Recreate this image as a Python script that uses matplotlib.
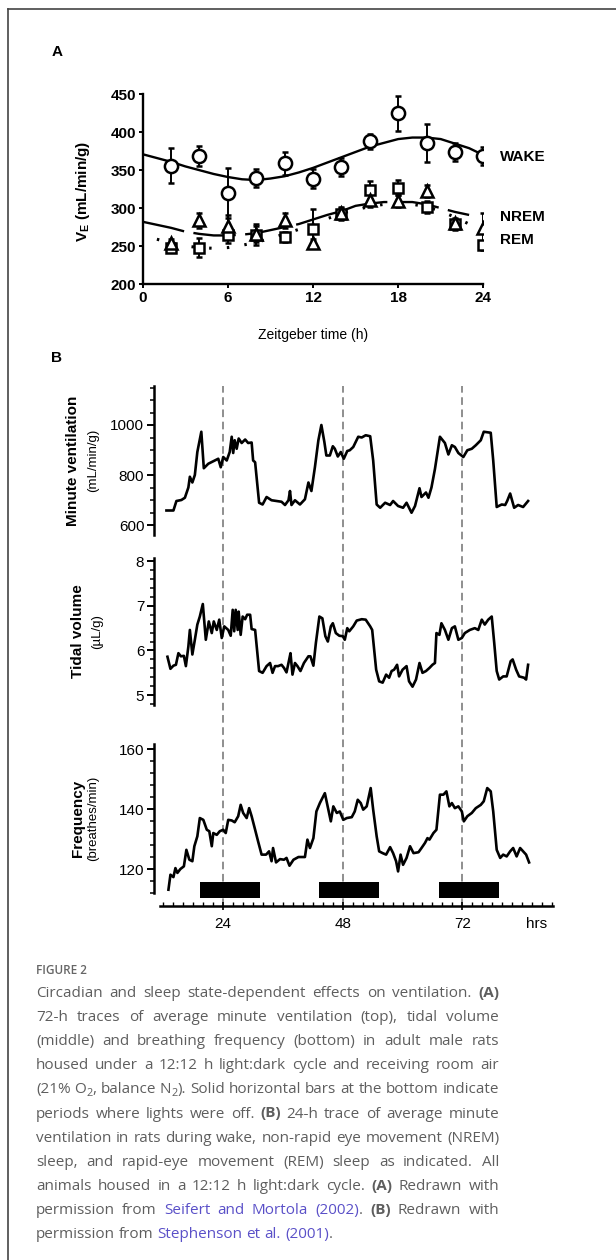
import re
import matplotlib
matplotlib.use('Agg')
import matplotlib.pyplot as plt
from matplotlib.lines import Line2D
from matplotlib.ticker import MultipleLocator

plt.rcParams['font.family'] = ['Liberation Sans', 'DejaVu Sans']
plt.rcParams['mathtext.fontset'] = 'custom'
plt.rcParams['mathtext.rm'] = 'Liberation Sans'
plt.rcParams['mathtext.bf'] = 'Liberation Sans:bold'

W, H = 616, 1260


def fx(px):
    return px / W


def fy(py):
    return 1 - py / H


# ---------------- Panel A data (Zeitgeber time, mL/min/g) ----------------
zt = [2, 4, 6, 8, 10, 12, 14, 16, 18, 20, 22, 24]
wake_mean = [356, 369, 320, 340, 359, 339, 354, 388, 425, 386, 374, 369]
wake_err = [23, 13, 33, 12, 15, 12, 12, 10, 23, 25, 12, 12]
nrem_mean = [254, 284, 277, 266, 284, 254, 294, 311, 309, 322, 280, 274]
nrem_err = [5, 10, 14, 10, 10, 5, 8, 10, 8, 8, 6, 20]
rem_mean = [248, 248, 264, 265, 262, 273, 292, 324, 327, 302, 279, 251]
rem_err = [5, 12, 10, 14, 6, 26, 8, 12, 10, 8, 8, 6]

wake_fit_h = list(range(0, 25))
wake_fit = [371, 366, 361, 355, 350, 345, 341, 338, 337, 339, 342, 347, 353,
            360, 367, 374, 381, 386, 391, 393, 393, 391, 385, 379, 370]
nrem_fit_h = list(range(0, 24))
nrem_fit = [282, 278, 274, 269, 266, 264, 264, 265, 267, 271, 275, 279, 285,
            291, 296, 303, 306, 308, 308, 308, 305, 300, 295, 291]
rem_fit_h = list(range(1, 24))
rem_fit = [259, 254, 250, 248, 247, 248, 251, 255, 260, 266, 272, 279, 286,
           293, 298, 302, 305, 306, 305, 302, 296, 288, 279]

# ---------------- Panel B data (hours) ----------------
mv_h = [12.6, 14.0, 14.6, 15.6, 16.3, 17.0, 17.3, 17.8, 18.3, 18.8,
        19.6, 20.1, 21.0, 22.0, 23.0, 23.5, 24.0, 24.7, 25.3, 25.7,
        26.0, 26.3, 26.7, 27.1, 27.7, 28.4, 29.0, 29.7, 30.0, 30.4,
        31.2, 31.9, 32.7, 33.7, 34.7, 35.7, 36.4, 37.1, 37.4, 37.7,
        38.4, 39.4, 40.4, 41.1, 41.7, 42.4, 43.1, 43.7, 44.3, 44.7,
        45.4, 46.0, 46.4, 47.0, 47.6, 48.2, 48.9, 49.4, 50.1, 51.1,
        51.8, 52.6, 53.5, 54.1, 54.8, 55.5, 56.5, 57.5, 58.1, 59.1,
        60.1, 60.8, 61.8, 62.5, 63.4, 63.8, 64.7, 65.2, 65.8, 66.5,
        67.5, 68.5, 69.2, 69.9, 70.5, 71.2, 72.2, 73.0, 73.9, 74.7,
        75.7, 76.3, 77.7, 78.2, 78.9, 79.9, 80.6, 81.0, 81.6, 82.4,
        83.2, 84.2, 85.2]
mv = [658, 658, 696, 700, 709, 750, 793, 770, 800, 892,
      973, 827, 845, 855, 865, 831, 872, 858, 892, 953,
      888, 939, 905, 946, 928, 942, 928, 930, 858, 851,
      689, 682, 712, 699, 696, 693, 680, 699, 736, 680,
      699, 682, 703, 770, 736, 831, 939, 1000, 932, 878,
      878, 915, 905, 874, 892, 865, 896, 899, 912, 953,
      950, 959, 955, 858, 682, 669, 689, 680, 696, 676,
      669, 689, 649, 676, 747, 712, 730, 709, 750, 824,
      953, 928, 882, 919, 912, 888, 872, 899, 905, 919,
      939, 973, 969, 858, 672, 682, 680, 696, 726, 669,
      680, 672, 696]

tv_h = [12.8, 13.4, 14.0, 14.5, 15.0, 15.5, 16.1, 16.5, 17.0, 17.3,
        17.8, 18.3, 18.8, 19.3, 19.9, 20.5, 21.1, 21.7, 22.1, 22.7,
        23.2, 23.7, 24.2, 25.0, 25.5, 25.9, 26.2, 26.5, 26.9, 27.1,
        27.5, 27.9, 28.4, 28.8, 29.4, 29.7, 30.4, 31.2, 31.9, 32.7,
        33.4, 33.9, 34.4, 35.0, 35.7, 36.2, 36.7, 37.3, 37.5, 37.9,
        38.4, 38.9, 39.5, 40.2, 41.1, 41.5, 42.1, 42.6, 43.3, 43.9,
        44.5, 45.0, 45.6, 46.0, 46.6, 47.3, 48.0, 48.4, 48.9, 49.3,
        50.1, 50.8, 51.8, 52.6, 53.5, 53.9, 54.7, 55.3, 56.0, 56.7,
        57.3, 57.8, 58.3, 58.9, 59.3, 60.0, 60.8, 61.3, 62.0, 62.7,
        63.4, 64.0, 64.7, 65.4, 66.0, 66.5, 66.8, 67.4, 67.8, 68.5,
        69.2, 69.9, 70.5, 71.2, 71.9, 72.5, 73.5, 74.5, 75.2, 75.9,
        76.5, 77.2, 77.9, 78.4, 78.9, 79.4, 80.2, 80.9, 81.7, 82.1,
        82.8, 83.4, 84.4, 84.8, 85.2]
tv = [5.86, 5.59, 5.66, 5.68, 5.94, 5.87, 5.88, 5.65, 6.09, 6.46,
      5.91, 6.24, 6.58, 6.76, 7.04, 6.24, 6.65, 6.39, 6.65, 6.46,
      6.69, 6.28, 6.54, 6.46, 6.33, 6.91, 6.43, 6.91, 6.46, 6.87,
      6.35, 6.76, 6.70, 6.80, 6.80, 6.48, 6.46, 5.54, 5.50, 5.65,
      5.72, 5.50, 5.65, 5.65, 5.68, 5.61, 5.51, 5.83, 5.94, 5.46,
      5.72, 5.65, 5.54, 5.72, 5.87, 5.87, 5.66, 6.17, 6.76, 6.72,
      6.32, 6.20, 6.54, 6.61, 6.39, 6.33, 6.32, 6.24, 6.50, 6.43,
      6.54, 6.67, 6.70, 6.69, 6.54, 6.46, 5.57, 5.31, 5.28, 5.46,
      5.39, 5.54, 5.57, 5.68, 5.42, 5.57, 5.65, 5.31, 5.19, 5.35,
      5.72, 5.50, 5.54, 5.61, 5.68, 5.72, 6.39, 6.35, 6.61, 6.46,
      6.24, 6.50, 6.54, 6.24, 6.28, 6.39, 6.46, 6.50, 6.46, 6.69,
      6.58, 6.69, 6.76, 6.17, 5.54, 5.35, 5.42, 5.42, 5.76, 5.80,
      5.57, 5.42, 5.39, 5.35, 5.68]

fr_h = [13.0, 13.4, 14.0, 14.4, 14.8, 15.4, 16.1, 16.6, 17.2, 17.8,
        18.2, 18.8, 19.3, 20.0, 20.7, 21.2, 21.7, 22.0, 22.7, 23.3,
        24.0, 24.5, 25.0, 25.7, 26.3, 27.0, 27.5, 28.0, 28.7, 29.2,
        29.7, 30.4, 31.0, 31.7, 32.6, 33.2, 33.7, 34.0, 34.6, 35.4,
        36.2, 36.7, 37.3, 38.1, 39.1, 40.4, 40.9, 41.4, 42.1, 42.7,
        43.4, 44.4, 45.1, 45.6, 46.1, 46.8, 47.4, 48.1, 48.8, 49.8,
        50.4, 51.0, 51.6, 52.1, 52.8, 53.6, 54.1, 54.8, 55.3, 56.0,
        56.7, 57.5, 58.1, 58.7, 59.1, 59.6, 60.1, 60.8, 61.5, 62.2,
        63.2, 63.8, 64.5, 65.0, 65.4, 66.2, 66.8, 67.5, 68.2, 68.8,
        69.4, 69.9, 70.5, 71.2, 71.9, 72.3, 73.0, 73.9, 74.7, 75.7,
        76.3, 77.0, 77.7, 78.2, 78.9, 79.6, 80.2, 80.9, 81.6, 82.2,
        82.9, 83.6, 84.2, 84.8, 85.4]
fr = [113.1, 118.1, 117.3, 120.3, 118.7, 120.0, 120.9, 126.4, 123.1, 122.6,
      127.6, 130.9, 137.0, 136.4, 133.1, 132.6, 127.6, 132.0, 131.4, 132.6,
      133.1, 132.0, 136.4, 136.2, 135.6, 137.6, 141.4, 138.7, 137.0, 140.3,
      137.6, 133.1, 129.2, 124.8, 124.8, 125.9, 122.6, 127.0, 122.2, 123.3,
      123.1, 123.7, 121.1, 123.1, 124.0, 124.0, 129.8, 127.0, 130.3, 139.2,
      142.0, 145.3, 139.8, 135.9, 140.9, 138.7, 139.2, 136.4, 137.0, 137.3,
      139.2, 143.1, 142.0, 139.8, 140.9, 147.0, 139.8, 130.9, 125.9, 125.3,
      124.8, 127.3, 125.3, 122.6, 119.2, 124.8, 121.4, 123.7, 127.6, 125.3,
      125.6, 127.0, 128.7, 130.3, 129.8, 132.0, 133.1, 144.8, 144.8, 145.9,
      140.9, 142.0, 140.3, 140.9, 139.2, 135.9, 137.6, 138.7, 140.3, 141.4,
      142.6, 147.0, 145.9, 139.2, 126.4, 123.7, 124.8, 124.2, 125.9, 127.0,
      124.2, 127.0, 125.9, 124.8, 122.2]

day_marks = [24, 48, 72]
lights_off_start = [19.4, 43.3, 67.3]
lights_off_len = 12

cap_lines = [
    "Circadian and sleep state-dependent effects on ventilation. *(A)*",
    "72-h traces of average minute ventilation (top), tidal volume",
    "(middle) and breathing frequency (bottom) in adult male rats",
    "housed under a 12:12 h light:dark cycle and receiving room air",
    "(21% O_2, balance N_2). Solid horizontal bars at the bottom indicate",
    "periods where lights were off. *(B)* 24-h trace of average minute",
    "ventilation in rats during wake, non-rapid eye movement (NREM)",
    "sleep, and rapid-eye movement (REM) sleep as indicated. All",
    "animals housed in a 12:12 h light:dark cycle. *(A)* Redrawn with",
    "permission from {Seifert} {and} {Mortola} {(2002)}. *(B)* Redrawn with",
    "permission from {Stephenson} {et} {al.} {(2001)}.",
]

fig = plt.figure(figsize=(W / 100, H / 100), dpi=100)

# frame of the figure box
fig.add_artist(Line2D([fx(8), fx(8)], [fy(9), 0], color='#444444', lw=1.2))
fig.add_artist(Line2D([fx(8), 1], [fy(9), fy(9)], color='#444444', lw=1.2))

# ---------------- Panel A ----------------
axA = fig.add_axes([fx(142.7), fy(284), (483.3 - 142.7) / W, (284 - 94.3) / H])
axA.plot(wake_fit_h, wake_fit, color='black', lw=1.7, zorder=2)
axA.plot(nrem_fit_h, nrem_fit, color='black', lw=1.7, ls=(0, (18, 4)), zorder=2)
axA.plot(rem_fit_h, rem_fit, color='black', lw=2.2, ls=(0, (0.8, 5)), zorder=2)
ebkw = dict(mfc='white', mec='black', ecolor='black', mew=1.8, capsize=2.5,
            elinewidth=1.4, capthick=1.4, zorder=4)
axA.errorbar(zt, rem_mean, yerr=rem_err, fmt='s', ms=7.5, **ebkw)
axA.errorbar(zt, nrem_mean, yerr=nrem_err, fmt='^', ms=8.5, **ebkw)
axA.errorbar(zt, wake_mean, yerr=wake_err, fmt='o', ms=9.5, **ebkw)
axA.set_xlim(0, 24)
axA.set_ylim(200, 450)
axA.set_xticks([0, 6, 12, 18, 24])
axA.set_yticks([200, 250, 300, 350, 400, 450])
for s in ['top', 'right']:
    axA.spines[s].set_visible(False)
for s in ['left', 'bottom']:
    axA.spines[s].set_linewidth(1.7)
axA.tick_params(width=1.4, length=3, labelsize=11, pad=2)
for lab in axA.get_xticklabels() + axA.get_yticklabels():
    lab.set_fontweight('bold')
for name, yv in [('WAKE', 368), ('NREM', 288), ('REM', 258)]:
    axA.text(25.2, yv, name, fontsize=11, fontweight='bold', va='center',
             ha='left', clip_on=False)
fig.text(fx(83), fy(191), r'V$_\mathbf{E}$ (mL/min/g)', rotation=90,
         fontsize=11, fontweight='bold', ha='center', va='center')
fig.text(fx(313), fy(335), 'Zeitgeber time (h)', fontsize=10,
         ha='center', va='center')
fig.text(fx(57), fy(52), 'A', fontsize=11, fontweight='bold', ha='center', va='center')
fig.text(fx(57), fy(358), 'B', fontsize=11, fontweight='bold', ha='center', va='center')

# ---------------- Panel B ----------------
xl = (10.1, 90.2)
bl, bw = fx(154), (553 - 154) / W

# overlay for the dashed day marks spanning all three traces
axO = fig.add_axes([bl, fy(906), bw, (906 - 386) / H])
axO.set_xlim(*xl)
axO.set_ylim(0, 1)
axO.axis('off')
for d in day_marks:
    axO.axvline(d, color='#707070', lw=1.1, ls=(0, (5, 3)))

axes_b = []
specs = [
    (386, 535, (560, 1156), 200, 50, mv_h, mv, 'Minute ventilation', '(mL/min/g)', 73, 93),
    (558, 705, (4.78, 8.07), 1, 0.2, tv_h, tv, 'Tidal volume', '(µL/g)', 78, 97),
    (744, 893, (112, 161.7), 20, 4, fr_h, fr, 'Frequency', '(breathes/min)', 78, 93),
]
for top, bot, yl, maj, mnr, xs, ys, lab1, lab2, x1, x2 in specs:
    ax = fig.add_axes([bl, fy(bot), bw, (bot - top) / H])
    ax.patch.set_visible(False)
    ax.plot(xs, ys, color='black', lw=1.9, solid_joinstyle='round')
    ax.set_xlim(*xl)
    ax.set_ylim(*yl)
    ax.yaxis.set_major_locator(MultipleLocator(maj))
    ax.yaxis.set_minor_locator(MultipleLocator(mnr))
    for s in ['top', 'right', 'bottom']:
        ax.spines[s].set_visible(False)
    ax.spines['left'].set_linewidth(1.8)
    ax.tick_params(axis='y', which='major', length=5, width=1.4, labelsize=11, pad=2)
    ax.tick_params(axis='y', which='minor', length=3, width=1.1)
    ax.xaxis.set_visible(False)
    cy = (top + bot) / 2
    fig.text(fx(x1), fy(cy), lab1, rotation=90, fontsize=11, fontweight='bold',
             ha='center', va='center')
    fig.text(fx(x2), fy(cy), lab2, rotation=90, fontsize=9.5,
             ha='center', va='center')
    axes_b.append(ax)

axF = axes_b[2]
axF.broken_barh([(s, lights_off_len) for s in lights_off_start], (110.3, 5.3),
                facecolors='black', clip_on=False, zorder=3)
axF.xaxis.set_visible(True)
axF.spines['bottom'].set_visible(True)
axF.spines['bottom'].set_position(('outward', 9.4))
axF.spines['bottom'].set_linewidth(1.8)
axF.spines['bottom'].set_bounds(11.3, 90.2)
axF.set_xticks(day_marks + [87])
axF.set_xticklabels([str(d) for d in day_marks] + ['hrs'])
axF.xaxis.set_minor_locator(MultipleLocator(2))
axF.tick_params(axis='x', which='major', direction='inout', length=6, width=1.2,
                labelsize=11, pad=5)
axF.tick_params(axis='x', which='minor', direction='in', length=3, width=1.0)
axF.xaxis.get_major_ticks()[3].tick1line.set_visible(False)

# ---------------- Caption ----------------
cap_col = '#5e5e5e'
link_col = '#5a50c8'
cap_font = ['Open Sans', 'DejaVu Sans']
fig.text(fx(36), fy(974), 'FIGURE 2', fontsize=8.5, color='#666666',
         family=cap_font, fontweight='semibold', va='baseline')

renderer = fig.canvas.get_renderer()
left_px, right_px = 36, 499
base0, step = 997, 24.1


def parse_words(line):
    words = []
    for w in line.split(' '):
        runs = []
        for tok in re.findall(r'\*[^*]+\*|\{[^}]+\}|_\d|[^*{_]+', w):
            if tok.startswith('*'):
                runs.append((tok[1:-1], 'b'))
            elif tok.startswith('{'):
                runs.append((tok[1:-1], 'l'))
            elif tok.startswith('_'):
                runs.append((tok[1:], 's'))
            else:
                runs.append((tok, 'n'))
        words.append(runs)
    return words


def make_run(txt, kind, fs):
    kw = dict(fontsize=fs, color=cap_col, family=cap_font, va='baseline', ha='left')
    if kind == 'b':
        kw['fontweight'] = 'bold'
    elif kind == 'l':
        kw['color'] = link_col
    elif kind == 's':
        kw['fontsize'] = fs * 0.72
    t = fig.text(0, 0, txt, **kw)
    return t, t.get_window_extent(renderer=renderer).width


parsed = [parse_words(l) for l in cap_lines]

# size the caption font so the tightest justified line just fits
fs0 = 10.0
space0 = fs0 * 100 / 72 * 0.26
nat = []
for words in parsed[:-1]:
    tot = 0
    for runs in words:
        for t, k in runs:
            tt, w = make_run(t, k, fs0)
            tot += w
            tt.remove()
    nat.append(tot + space0 * (len(words) - 1))
cap_fs = fs0 * (right_px - left_px) / max(nat)

for i, words in enumerate(parsed):
    base = base0 + i * step
    built = [[(make_run(t, k, cap_fs), k) for t, k in runs] for runs in words]
    widths = [sum(r[0][1] for r in wd) for wd in built]
    if i < len(parsed) - 1:
        gap = (right_px - left_px - sum(widths)) / (len(built) - 1)
    else:
        gap = cap_fs * 100 / 72 * 0.26
    x = left_px
    for wd, wdt in zip(built, widths):
        xx = x
        for (t, tw), k in wd:
            yy = base + (3 if k == 's' else 0)
            t.set_position((fx(xx), fy(yy)))
            xx += tw
        x += wdt + gap

fig.savefig('out.png', dpi=100)
